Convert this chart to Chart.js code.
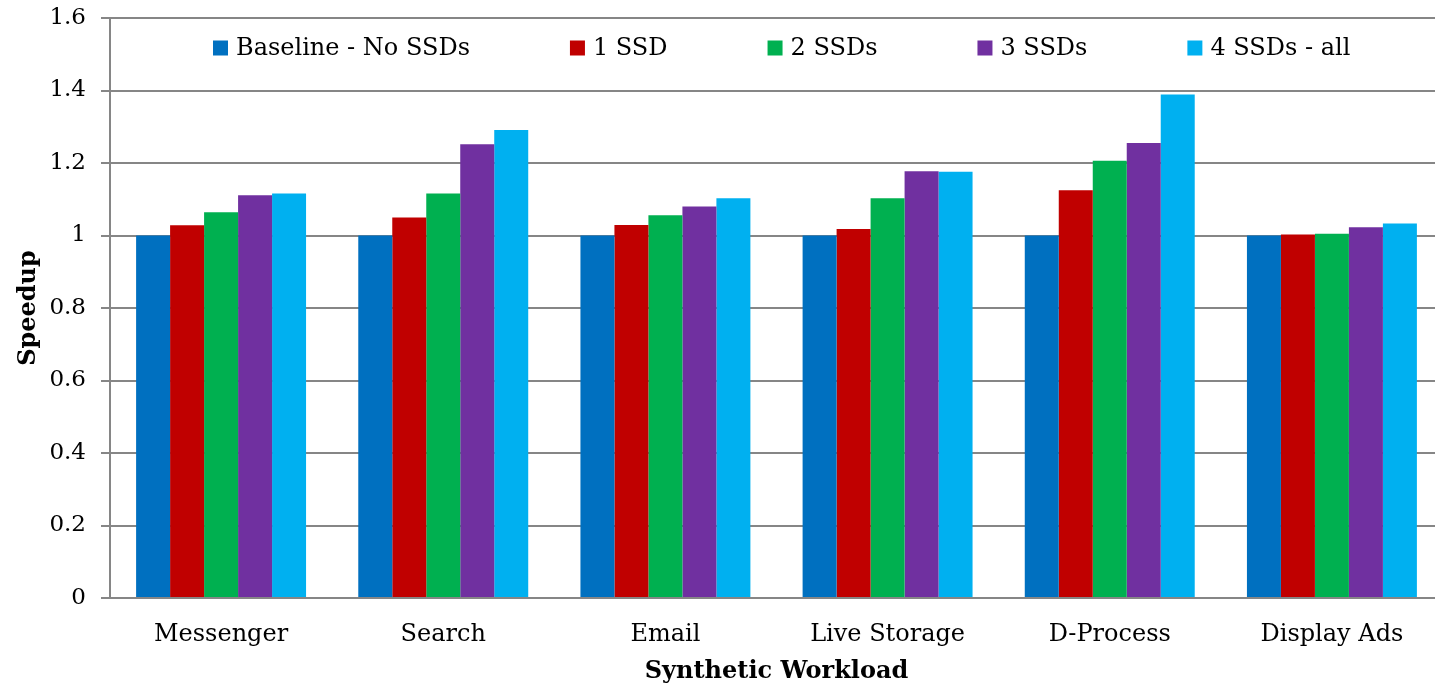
<!DOCTYPE html>
<html>
<head>
<meta charset="utf-8">
<script src="https://cdn.jsdelivr.net/npm/chart.js@4/dist/chart.umd.min.js"></script>
<style>
  html, body { margin: 0; padding: 0; background: #ffffff; overflow: hidden; }
  #wrap { width: 1435px; height: 686px; position: relative; overflow: hidden; }
</style>
</head>
<body>
<div id="wrap"><canvas id="chart" width="1447" height="686"></canvas></div>
<script>
// Workloads along the x axis
const categories = ['Messenger', 'Search', 'Email', 'Live Storage', 'D-Process', 'Display Ads'];

// Speedup per configuration
const seriesNames = ['Baseline - No SSDs', '1 SSD', '2 SSDs', '3 SSDs', '4 SSDs - all'];
const baseline = [1.0, 1.0, 1.0, 1.0, 1.0, 1.0];
const ssd1 = [1.028, 1.050, 1.029, 1.018, 1.125, 1.003];
const ssd2 = [1.064, 1.116, 1.056, 1.103, 1.206, 1.005];
const ssd3 = [1.111, 1.252, 1.080, 1.177, 1.255, 1.023];
const ssd4 = [1.116, 1.291, 1.103, 1.176, 1.389, 1.033];
const yTicks = [0, 0.2, 0.4, 0.6, 0.8, 1, 1.2, 1.4, 1.6];

const colors = ['#0070C0', '#C00000', '#00B050', '#7030A0', '#00B0F0'];
const FONT = '"DejaVu Serif", "Liberation Serif", serif';
const GRID = '#868686';

// Legend drawn in one row along the top band of the plot area
const insideLegend = {
  id: 'insideLegend',
  afterDraw(chart) {
    const ctx = chart.ctx;
    const area = chart.chartArea;
    const box = 15, gap = 8, pad = 100;
    ctx.save();
    ctx.font = '24px ' + FONT;
    ctx.textBaseline = 'middle';
    ctx.textAlign = 'left';
    let x = area.left + 103;
    const y = area.top + 30;
    chart.data.datasets.forEach(ds => {
      ctx.fillStyle = ds.backgroundColor;
      ctx.fillRect(x, y - box / 2, box, box);
      ctx.fillStyle = '#000000';
      ctx.fillText(ds.label, x + box + gap, y + 1);
      x += box + gap + ctx.measureText(ds.label).width + pad;
    });
    ctx.restore();
  }
};

const seriesData = [baseline, ssd1, ssd2, ssd3, ssd4];

new Chart(document.getElementById('chart'), {
  type: 'bar',
  data: {
    labels: categories,
    datasets: seriesNames.map((name, i) => ({
      label: name,
      data: seriesData[i],
      backgroundColor: colors[i],
      borderWidth: 0,
      categoryPercentage: 0.765,
      barPercentage: 1.0
    }))
  },
  options: {
    responsive: false,
    animation: false,
    devicePixelRatio: 1,
    layout: { padding: { top: 18, right: 4, left: 0, bottom: 0 } },
    plugins: {
      legend: { display: false },
      tooltip: { enabled: false }
    },
    scales: {
      x: {
        grid: { display: false, drawTicks: false },
        border: { color: GRID, width: 2 },
        ticks: { color: '#000000', font: { family: FONT, size: 24 }, padding: 22 },
        title: {
          display: true, text: 'Synthetic Workload', color: '#000000',
          font: { family: FONT, size: 24, weight: 'bold' }, padding: { top: 6, bottom: 0 }
        },
        afterFit(scale) { scale.height = 88; }
      },
      y: {
        min: 0, max: 1.6,
        afterBuildTicks(scale) { scale.ticks = yTicks.map(v => ({ value: v })); },
        grid: { color: GRID, lineWidth: 2, tickLength: 9, drawTicks: true },
        border: { color: GRID, width: 2 },
        ticks: {
          color: '#000000', font: { family: FONT, size: 23 }, padding: 15,
          callback: v => String(Math.round(v * 10) / 10)
        },
        title: {
          display: true, text: 'Speedup', color: '#000000',
          font: { family: FONT, size: 24, weight: 'bold' }, padding: { top: 14, bottom: 0 }
        },
        afterFit(scale) {
          scale.width = 110;
          scale.paddingTop = 0;
          scale.paddingBottom = 0;
        }
      }
    }
  },
  plugins: [insideLegend]
});
</script>
</body>
</html>
